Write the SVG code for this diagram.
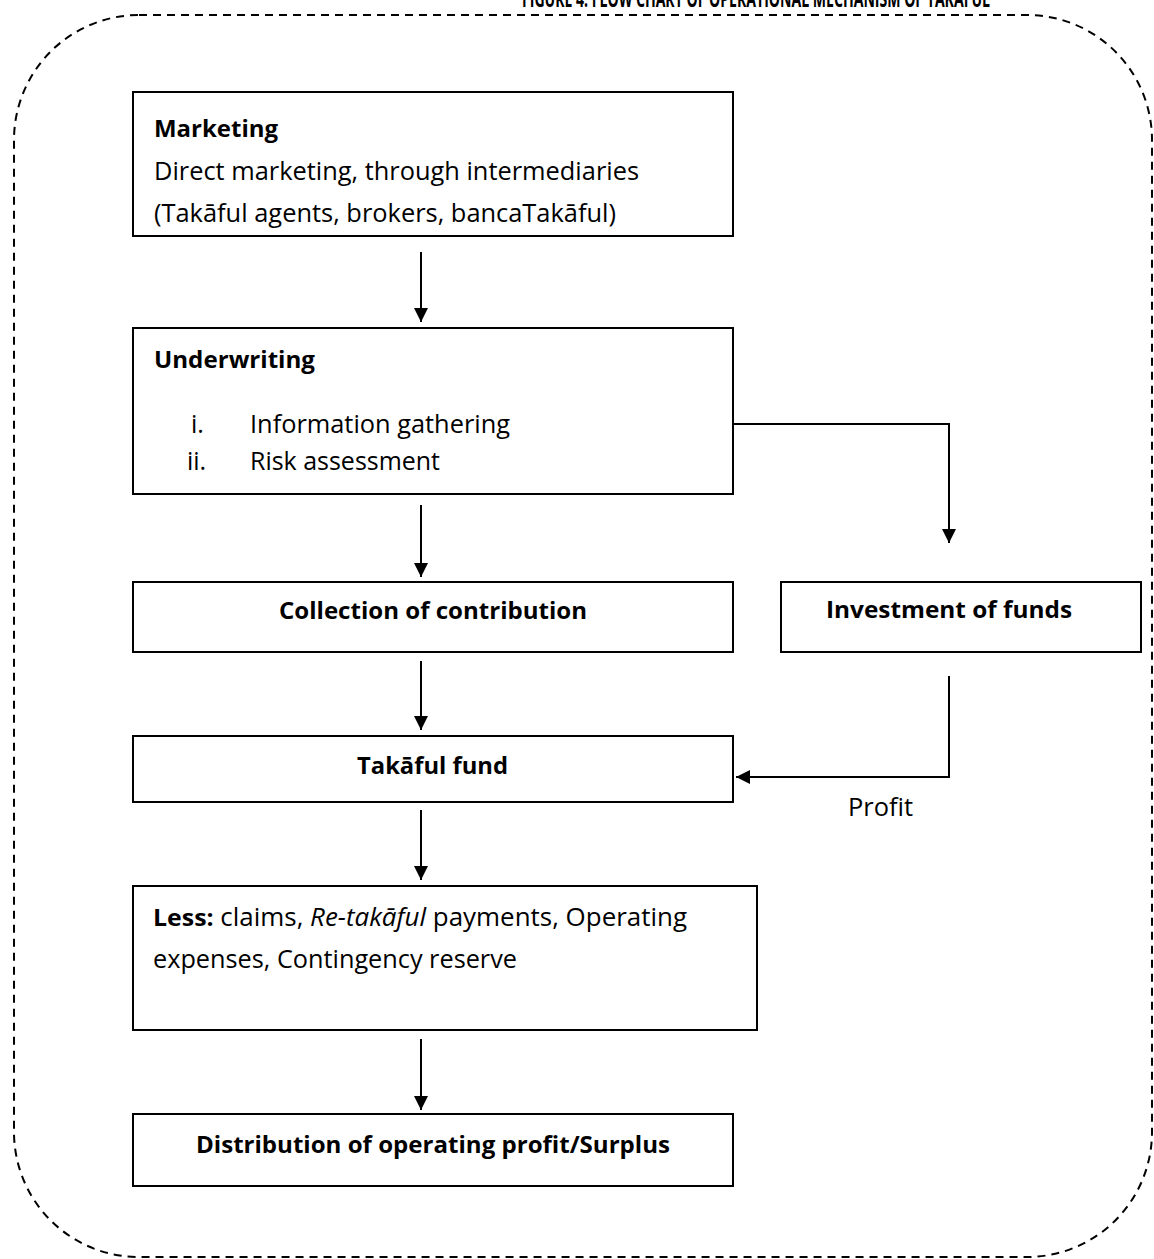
<svg xmlns="http://www.w3.org/2000/svg" width="1154" height="1259" viewBox="0 0 1154 1259">
  <style>
    .box { fill: #ffffff; stroke: #000000; stroke-width: 2; }
    .t { font-family: "Open Sans", "Noto Sans", "Liberation Sans", sans-serif; font-size: 25px; fill: #000000; }
    .b { font-weight: bold; font-size: 24px; }
    .conn { fill: none; stroke: #000000; stroke-width: 2; }
    .frame { fill: none; stroke: #000000; stroke-width: 2; stroke-dasharray: 8 6; }
  </style>
  <defs>
    <marker id="arrow" viewBox="0 0 10 10" markerWidth="14" markerHeight="14" refX="10" refY="5" orient="auto" markerUnits="userSpaceOnUse">
      <path d="M0,0 L10,5 L0,10 z" fill="#000000"/>
    </marker>
  </defs>
  <rect width="1154" height="1259" fill="#ffffff"/>

  <!-- outer dashed frame and heading -->
  <rect class="frame" x="14" y="15" width="1138" height="1242" rx="125" ry="125"/>
  <text class="t b" x="522" y="7" font-size="13" textLength="468" lengthAdjust="spacingAndGlyphs">FIGURE 4: FLOW CHART OF OPERATIONAL MECHANISM OF TAKAFUL</text>

  <g id="connectors">
    <line class="conn" x1="421" y1="252" x2="421" y2="322" marker-end="url(#arrow)"/>
    <line class="conn" x1="421" y1="505" x2="421" y2="577" marker-end="url(#arrow)"/>
    <line class="conn" x1="421" y1="661" x2="421" y2="730" marker-end="url(#arrow)"/>
    <line class="conn" x1="421" y1="810" x2="421" y2="880" marker-end="url(#arrow)"/>
    <line class="conn" x1="421" y1="1039" x2="421" y2="1110" marker-end="url(#arrow)"/>
    <polyline class="conn" points="733,424 949,424 949,543" marker-end="url(#arrow)"/>
    <polyline class="conn" points="949,676 949,777 736,777" marker-end="url(#arrow)"/>
    <text class="t" x="848" y="816" textLength="65" lengthAdjust="spacingAndGlyphs">Profit</text>
  </g>

  <g id="marketing">
    <rect class="box" x="133" y="92" width="600" height="144"/>
    <text class="t b" x="154" y="137" textLength="124" lengthAdjust="spacingAndGlyphs">Marketing</text>
    <text class="t" x="154" y="180" textLength="485" lengthAdjust="spacingAndGlyphs">Direct marketing, through intermediaries</text>
    <text class="t" x="154" y="222" textLength="462" lengthAdjust="spacingAndGlyphs">(Takāful agents, brokers, bancaTakāful)</text>
  </g>

  <g id="underwriting">
    <rect class="box" x="133" y="328" width="600" height="166"/>
    <text class="t b" x="154" y="368" textLength="161" lengthAdjust="spacingAndGlyphs">Underwriting</text>
    <text class="t" x="191" y="433">i.</text>
    <text class="t" x="250" y="433" textLength="260" lengthAdjust="spacingAndGlyphs">Information gathering</text>
    <text class="t" x="187" y="470">ii.</text>
    <text class="t" x="250" y="470" textLength="190" lengthAdjust="spacingAndGlyphs">Risk assessment</text>
  </g>

  <g id="collection">
    <rect class="box" x="133" y="582" width="600" height="70"/>
    <text class="t b" x="279" y="619" textLength="308" lengthAdjust="spacingAndGlyphs">Collection of contribution</text>
  </g>

  <g id="investment">
    <rect class="box" x="781" y="582" width="360" height="70"/>
    <text class="t b" x="826" y="618" textLength="246" lengthAdjust="spacingAndGlyphs">Investment of funds</text>
  </g>

  <g id="takaful-fund">
    <rect class="box" x="133" y="736" width="600" height="66"/>
    <text class="t b" x="357" y="774" textLength="151" lengthAdjust="spacingAndGlyphs">Takāful fund</text>
  </g>

  <g id="deductions">
    <rect class="box" x="133" y="886" width="624" height="144"/>
    <text class="t" x="153" y="926" textLength="534" lengthAdjust="spacingAndGlyphs"><tspan class="b">Less:</tspan> claims, <tspan font-style="italic">Re-takāful</tspan> payments, Operating</text>
    <text class="t" x="153" y="968" textLength="364" lengthAdjust="spacingAndGlyphs">expenses, Contingency reserve</text>
  </g>

  <g id="distribution">
    <rect class="box" x="133" y="1114" width="600" height="72"/>
    <text class="t b" x="196" y="1153" textLength="474" lengthAdjust="spacingAndGlyphs">Distribution of operating profit/Surplus</text>
  </g>
</svg>
